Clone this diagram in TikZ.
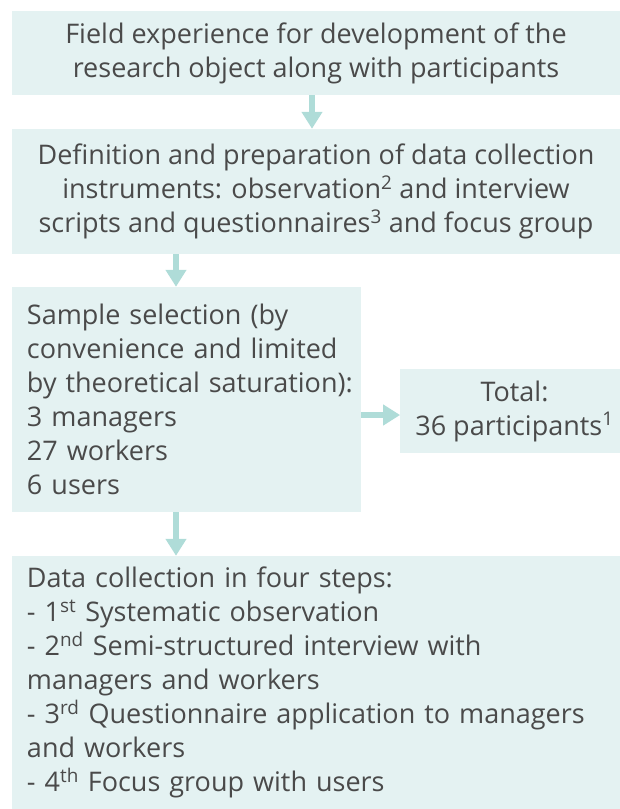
\documentclass[tikz,border=0pt]{standalone}
\usepackage{fontspec}
\setmainfont{Open Sans}
\usepackage{xcolor}
\usetikzlibrary{positioning,arrows.meta}
\definecolor{stagefill}{HTML}{E4F2F2}
\definecolor{flowcol}{HTML}{AFDCD8}
\definecolor{stagetext}{HTML}{4A4A4A}
% no hyphenation inside the boxes, lines are broken by hand
\newcommand\stagefont{\fontsize{27}{34}\selectfont\hyphenpenalty=10000 \hbadness=10000 }

\begin{document}
\begin{tikzpicture}[x=1pt, y=-1pt,
    stage/.style={fill=stagefill, text=stagetext, inner xsep=15pt, inner ysep=0pt,
                  font=\stagefont},
    flow/.style={flowcol, line width=6pt, -{Triangle[length=17pt,width=20pt]}}]
  \useasboundingbox (0,0) rectangle (620,809);
  % boxes, top to bottom
  \node[stage, align=center, minimum width=608pt, minimum height=84pt] (field) at (316,53)
        {Field experience for development of the\\research object along with participants};
  \node[stage, align=center, minimum width=608pt, minimum height=125pt] (instr) at (316,191.5)
        {Definition and preparation of data collection\\
         instruments: observation\textsuperscript{2} and interview\\
         scripts and questionnaires\textsuperscript{3} and focus group};
  \node[stage, align=left, text width=319pt, minimum height=225pt] (sample) at (186.5,399.5)
        {Sample selection (by\\convenience and limited\\by~theoretical~saturation):\\
         3 managers\\27 workers\\6 users};
  \node[stage, align=center, minimum width=211pt, minimum height=84pt] (total) at (514.5,411)
        {Total:\\36 participants\textsuperscript{1}};
  \node[stage, align=left, text width=578pt, minimum height=253pt] (collect) at (316,682.5)
        {Data collection in four steps:\\
         - 1\textsuperscript{st} Systematic observation\\
         - 2\textsuperscript{nd} Semi-structured interview with\\
         managers and workers\\
         - 3\textsuperscript{rd} Questionnaire application to managers\\
         and workers\\
         - 4\textsuperscript{th} Focus group with users};
  % arrows
  \draw[flow] ([xshift=-4pt]field.south) -- ([xshift=-4pt]instr.north);
  \draw[flow] ([xshift=-140pt]instr.south) -- ([xshift=-140pt]instr.south |- sample.north);
  \draw[flow] ([xshift=-10.5pt]sample.south) -- ([xshift=-10.5pt]sample.south |- collect.north);
  \draw[flow] ([yshift=-4pt]sample.east |- total.west) -- ([yshift=-4pt]total.west);
\end{tikzpicture}
\end{document}
